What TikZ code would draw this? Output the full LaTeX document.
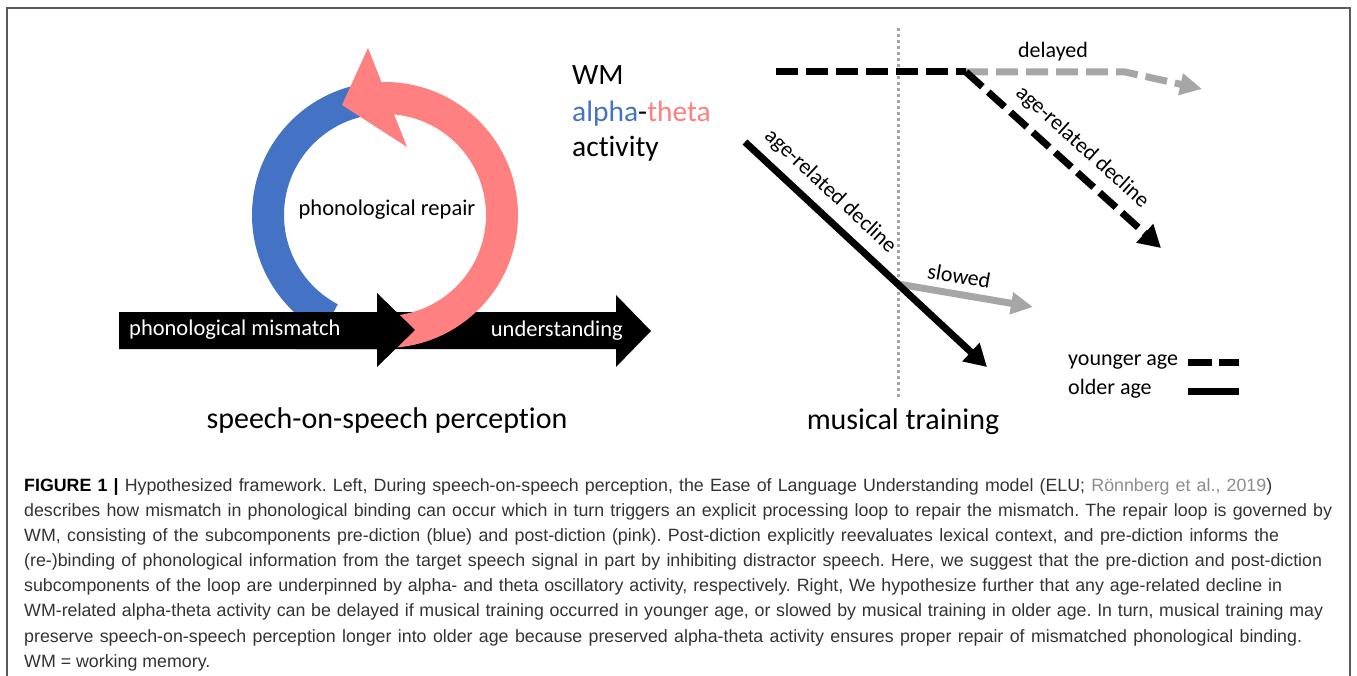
\documentclass[tikz,border=0pt]{standalone}
\usepackage{fontspec}
\setmainfont{Liberation Sans}
\newfontfamily\diagfont[Ligatures={NoCommon}]{Carlito}
\definecolor{wmblue}{RGB}{68, 114, 196}
\definecolor{wmpink}{RGB}{255, 128, 128}
\definecolor{trendgray}{RGB}{166, 166, 166}
\definecolor{dotgray}{RGB}{165, 165, 165}
\definecolor{framegray}{RGB}{90, 90, 90}
\definecolor{capgray}{RGB}{51, 51, 51}
\definecolor{citegray}{RGB}{140, 140, 140}
\usetikzlibrary{arrows.meta, positioning, calc}

\tikzset{
  looptext/.style={font=\diagfont\fontsize{22.5}{27}\selectfont, inner sep=0pt},
  titletext/.style={font=\diagfont\fontsize{30}{36}\selectfont, inner sep=0pt},
  wmtext/.style={font=\diagfont\fontsize{29.5}{36}\selectfont, inner sep=0pt, anchor=base west},
  trendtext/.style={font=\diagfont\fontsize{22}{26}\selectfont, text=black, inner sep=0pt},
  captext/.style={font=\fontsize{17.8}{25}\selectfont\frenchspacing, text=capgray, inner sep=0pt, anchor=base west},
  trendline/.style={line width=7pt},
  dashline/.style={trendline, dash pattern=on 22pt off 8pt},
  blackhead/.style={-{Triangle[length=22pt, width=24pt]}},
  grayhead/.style={-{Triangle[length=22pt, width=21pt]}},
}
% caption line spread to the width it has in the figure
\newcommand{\capline}[2]{\makebox[#1pt][s]{#2}}

\begin{document}
\begin{tikzpicture}[x=1pt, y=-1pt]
  \useasboundingbox (0,0) rectangle (1357,676);
  % frame
  \draw[framegray, line width=1.5pt] (7,676) -- (7,8) -- (1350,8) -- (1350,676);

  % Repair loop
  \coordinate (ringc) at (385,215);
  \draw[wmblue, line width=32pt] ($(ringc)+(-92:117)$) arc[start angle=-92, end angle=-242, radius=117];
  % understanding arrow (behind)
  \fill[black] (296,312) -- (616,312) -- (616,295) -- (651,331) -- (616,367) -- (616,349) -- (296,349) -- cycle;
  \draw[wmpink, line width=32pt] ($(ringc)+(100:117)$) arc[start angle=100, end angle=-95, radius=117];
  \fill[wmpink] (368,48) -- (342,105) -- (407,147) -- cycle;
  % mismatch arrow (front)
  \fill[black] (119,312) -- (377,312) -- (377,293) -- (415,330) -- (377,367) -- (377,349) -- (119,349) -- cycle;

  \node[looptext] (repair) at (387,210) {phonological repair};
  \node[looptext, text=white, anchor=west] (mismatch) at (129,330) {phonological mismatch};
  \node[looptext, text=white, anchor=east] (understand) at (623,331) {understanding};
  \node[titletext] (sos) at (387,420) {speech-on-speech perception};

  % WM activity
  \node[wmtext] (wm) at (572,85) {WM};
  \node[wmtext] (alphatheta) at (572,121.5) {\textcolor{wmblue}{alpha}-\textcolor{wmpink}{theta}};
  \node[wmtext] (activity) at (572,157) {activity};

  % Musical training
  \coordinate (traintop) at (898,28);
  \coordinate (trainbot) at (898,398);
  \coordinate (youngstart) at (776,72);
  \coordinate (youngknee) at (966,72);
  \coordinate (delaybend) at (1125,72);
  \coordinate (delayend) at (1202,89);
  \coordinate (youngend) at (1161,248);
  \coordinate (oldstart) at (745,142);
  \coordinate (oldknee) at (898,284);
  \coordinate (oldend) at (987,367);
  \coordinate (slowend) at (1033,307);

  \draw[dotgray, line width=3pt, dash pattern=on 3pt off 3pt] (traintop) -- (trainbot);
  \draw[dashline, trendgray, grayhead] (youngknee) -- (delaybend) -- (delayend);
  \draw[dashline] (youngstart) -- (youngknee);
  \draw[dashline, blackhead] (youngknee) -- node[trendtext, pos=0.52, sloped, above=9pt] (youngdecl) {age-related decline} (youngend);
  \draw[trendline, trendgray, grayhead] (oldknee) -- node[trendtext, pos=0.43, sloped, above=7pt] (slowed) {slowed} (slowend);
  \draw[trendline, blackhead] (oldstart) -- node[trendtext, pos=0.29, sloped, above=9pt] (olddecl) {age-related decline} (oldend);

  \node[trendtext] (delayed) at (1053,52) {delayed};
  \node[titletext] (training) at (903,422) {musical training};

  % legend
  \coordinate (legx) at (1188,0);
  \node[trendtext, anchor=west] (younglbl) at (1068,362) {younger age};
  \node[trendtext, anchor=west] (oldlbl) at (1068,389) {older age};
  \draw[line width=7pt, dash pattern=on 24pt off 7pt] (younglbl.east -| legx) -- ++(51,0);
  \draw[line width=7pt] ([yshift=-2pt]oldlbl.east -| legx) -- ++(51,0);

  % caption
  \node[captext] (cap1) at (24,491) {\capline{1248}{\textcolor{black}{\textbf{FIGURE 1 |}} Hypothesized framework. Left, During speech-on-speech perception, the Ease of Language Understanding model (ELU; \textcolor{citegray}{Rönnberg et al., 2019})}};
  \node[captext] (cap2) at (24,516.2) {\capline{1308}{describes how mismatch in phonological binding can occur which in turn triggers an explicit processing loop to repair the mismatch. The repair loop is governed by}};
  \node[captext] (cap3) at (24,541.3) {\capline{1255}{WM, consisting of the subcomponents pre-diction (blue) and post-diction (pink). Post-diction explicitly reevaluates lexical context, and pre-diction informs the}};
  \node[captext] (cap4) at (24,566.5) {\capline{1298}{(re-)binding of phonological information from the target speech signal in part by inhibiting distractor speech. Here, we suggest that the pre-diction and post-diction}};
  \node[captext] (cap5) at (24,591.7) {\capline{1258}{subcomponents of the loop are underpinned by alpha- and theta oscillatory activity, respectively. Right, We hypothesize further that any age-related decline in}};
  \node[captext] (cap6) at (24,616.8) {\capline{1299}{WM-related alpha-theta activity can be delayed if musical training occurred in younger age, or slowed by musical training in older age. In turn, musical training may}};
  \node[captext] (cap7) at (24,642) {\capline{1278}{preserve speech-on-speech perception longer into older age because preserved alpha-theta activity ensures proper repair of mismatched phonological binding.}};
  \node[captext] (cap8) at (24,667) {WM = working memory.};
\end{tikzpicture}
\end{document}
